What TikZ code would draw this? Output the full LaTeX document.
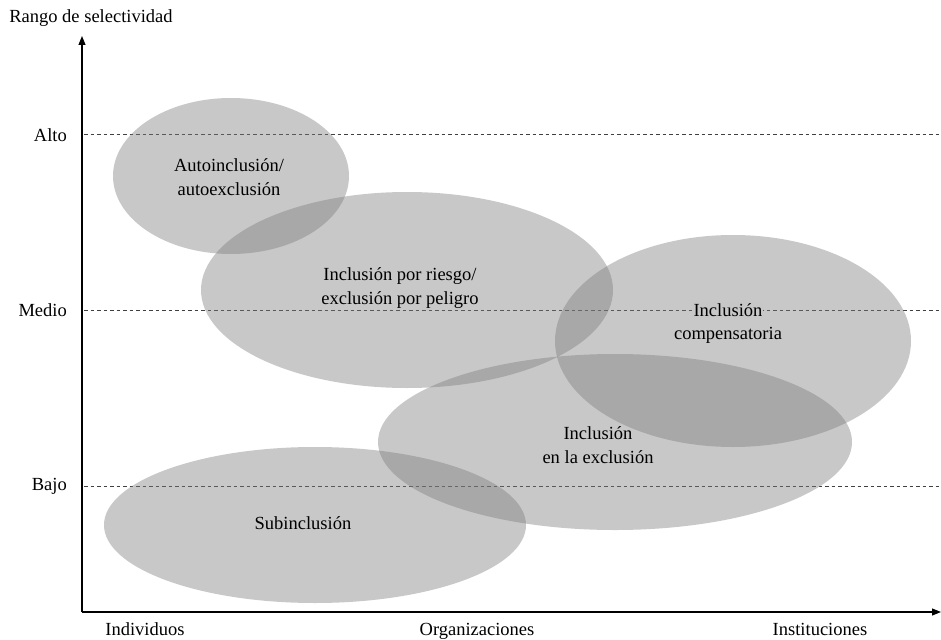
\documentclass[tikz,border=0pt]{standalone}
\usepackage{fontspec}
\setmainfont{Liberation Serif}
\usetikzlibrary{arrows.meta}
\definecolor{zonegray}{gray}{0.486}
\begin{document}
\begin{tikzpicture}[x=1pt,y=-1pt,
  axis/.style={line width=1.1pt,-{Triangle[length=9pt,width=7pt]}},
  level/.style={dashed,dash pattern=on 3.5pt off 3pt,line width=1pt,black!75},
  zone/.style={fill=zonegray,fill opacity=0.42},
  lbl/.style={font=\fontsize{18.5}{24}\selectfont,align=center,inner sep=1pt},
  tick/.style={font=\fontsize{18.5}{22}\selectfont,anchor=east,inner sep=0pt}]
  \useasboundingbox (0,0) rectangle (941,639);

  % axes
  \coordinate (o) at (82,612);
  \coordinate (ytop) at (82,36);
  \coordinate (xend) at (941,612);
  \draw[axis] (o) -- (ytop);
  \draw[axis] (o) -- (xend);
  \node[font=\fontsize{18.5}{22}\selectfont,inner sep=0pt] (ytitle) at (91,18) {Rango de selectividad};

  % selectivity levels
  \node[tick] (alto) at (67,135) {Alto};
  \node[tick] (medio) at (67,310) {Medio};
  \node[tick] (bajo) at (67,486) {Bajo};
  \coordinate (altoE) at (941,135);
  \coordinate (medioE) at (941,310);
  \coordinate (bajoE) at (941,486);
  \draw[level] (84,135) -- (altoE);
  \draw[level] (84,310) -- (medioE);
  \draw[level] (84,486) -- (bajoE);

  % actor types
  \node[tick,anchor=base] (ind) at (145,635) {Individuos};
  \node[tick,anchor=base] (org) at (477,635) {Organizaciones};
  \node[tick,anchor=base] (ins) at (820,635) {Instituciones};

  % inclusion/exclusion zones
  \fill[zone] (231,176) ellipse [x radius=118, y radius=78];
  \fill[zone] (407,290) ellipse [x radius=206, y radius=98];
  \fill[zone] (733,341) ellipse [x radius=178, y radius=106];
  \fill[zone] (615,442) ellipse [x radius=237, y radius=88];
  \fill[zone] (315,525) ellipse [x radius=211, y radius=78];

  \node[lbl] (auto) at (229,177) {Autoinclusión/\\autoexclusión};
  \node[lbl] (riesgo) at (400,288) {Inclusión por riesgo/\\exclusión por peligro};
  \node[lbl,fill=black!22] (comp1) at (728,310) {Inclusión};
  \node[lbl] (comp2) at (728,335) {compensatoria};
  \node[lbl] (enexc) at (598,445) {Inclusión\\en la exclusión};
  \node[lbl] (sub) at (303,523) {Subinclusión};
\end{tikzpicture}
\end{document}
